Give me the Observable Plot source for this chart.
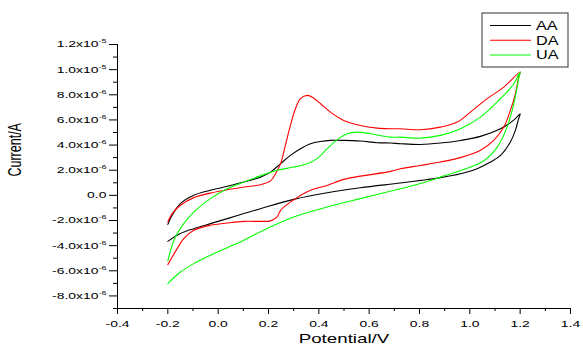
<!DOCTYPE html>
<html>
<head>
<meta charset="utf-8">
<script src="https://cdn.jsdelivr.net/npm/d3@7"></script>
<script src="https://cdn.jsdelivr.net/npm/@observablehq/plot@0.6"></script>
<style>
  body { margin: 0; background: #fff; }
  #chart { width: 583px; height: 348px; position: relative; }
</style>
</head>
<body>
<div id="chart"></div>
<script>
// ---- data (potential in V, current in µA) ----
const seriesNames = ["AA", "DA", "UA"];
const seriesColors = ["#000000", "#ff0000", "#00ff00"];

const aaPotential = [-0.2,-0.183,-0.15,-0.097,-0.031,0.036,0.102,0.168,0.208,0.248,0.287,0.327,0.367,0.407,0.446,0.498,0.565,0.632,0.685,0.724,0.804,0.883,0.963,1.042,1.122,1.173,1.2,
  1.194,1.181,1.161,1.122,1.082,1.029,0.963,0.883,0.804,0.724,0.565,0.433,0.3,0.168,0.102,0.036,-0.031,-0.097,-0.15,-0.2];
const aaCurrent = [-2.31,-1.59,-0.66,0,0.40,0.72,1.06,1.45,1.85,2.52,3.18,3.71,4.11,4.29,4.37,4.37,4.32,4.19,4.16,4.11,4.05,4.16,4.37,4.69,5.30,5.96,6.49,
  6.10,5.17,4.24,3.18,2.65,2.12,1.72,1.41,1.19,0.98,0.61,0.21,-0.32,-1.06,-1.45,-1.85,-2.25,-2.65,-3.04,-3.66];

const daPotential = [-0.2,-0.183,-0.15,-0.097,-0.031,0.036,0.102,0.168,0.208,0.228,0.248,0.267,0.287,0.307,0.327,0.354,0.38,0.407,0.446,0.499,0.565,0.632,0.685,0.724,0.804,0.883,0.95,1.002,1.069,1.135,1.2,
  1.194,1.181,1.161,1.135,1.095,1.042,0.963,0.883,0.804,0.724,0.685,0.565,0.499,0.433,0.367,0.3,0.248,0.234,0.208,0.168,0.102,0.036,-0.031,-0.097,-0.137,-0.163,-0.2];
const daCurrent = [-2.12,-1.45,-0.79,-0.18,0.18,0.45,0.66,0.85,1.15,1.72,2.52,3.97,5.56,6.89,7.69,7.95,7.73,7.29,6.62,5.96,5.56,5.35,5.30,5.30,5.22,5.43,5.83,6.62,7.69,8.61,9.82,
  9.40,8.08,6.76,5.43,4.37,3.58,3.00,2.65,2.38,2.12,1.91,1.53,1.27,0.79,0.40,-0.36,-1.19,-1.72,-2.03,-2.07,-2.07,-2.20,-2.38,-2.78,-3.44,-4.24,-5.51];

const uaPotential = [-0.2,-0.189,-0.17,-0.137,-0.097,-0.031,0.036,0.102,0.168,0.234,0.3,0.354,0.393,0.433,0.473,0.513,0.552,0.605,0.685,0.724,0.804,0.883,0.963,1.042,1.122,1.175,1.2,
  1.194,1.175,1.148,1.109,1.055,0.989,0.883,0.804,0.724,0.565,0.433,0.3,0.168,0.102,0.036,-0.031,-0.097,-0.15,-0.2];
const uaCurrent = [-5.22,-4.37,-3.31,-2.25,-1.33,-0.26,0.53,1.06,1.55,1.99,2.25,2.52,2.92,3.71,4.43,4.90,5.03,4.90,4.63,4.63,4.55,4.77,5.30,6.22,7.69,8.88,9.82,
  9.28,7.29,5.43,3.84,2.75,2.15,1.45,0.95,0.53,-0.26,-0.93,-1.72,-2.89,-3.58,-4.16,-4.77,-5.43,-6.10,-7.02];

const xTicks = [-0.4,-0.2,0.0,0.2,0.4,0.6,0.8,1.0,1.2,1.4];
const xMinorTicks = [-0.3,-0.1,0.1,0.3,0.5,0.7,0.9,1.1,1.3];
const yTicks = [-8e-6,-6e-6,-4e-6,-2e-6,0,2e-6,4e-6,6e-6,8e-6,1e-5,1.2e-5];
const yMinorTicks = [-9e-6,-7e-6,-5e-6,-3e-6,-1e-6,1e-6,3e-6,5e-6,7e-6,9e-6,1.1e-5];

// ---- table ----
const seriesData = [
  [aaPotential, aaCurrent],
  [daPotential, daCurrent],
  [uaPotential, uaCurrent]
];
const rows = [];
seriesData.forEach(([px, cy], s) => {
  px.forEach((p, i) => rows.push({series: seriesNames[s], potential: p, current: cy[i] * 1e-6}));
});

function yLabel(v) {
  if (Math.abs(v) < 1e-12) return "0.0";
  const e = Math.floor(Math.log10(Math.abs(v)) + 1e-9);
  const m = v / Math.pow(10, e);
  return m.toFixed(1) + "x10^" + e;
}

const chart = Plot.plot({
  width: 583,
  height: 348,
  marginLeft: 117,
  marginRight: 13,
  marginTop: 44,
  marginBottom: 40,
  x: {domain: [-0.4, 1.4], label: null},
  y: {domain: [-9e-6, 1.2e-5], label: null},
  color: {domain: seriesNames, range: seriesColors},
  style: {fontFamily: "'Liberation Sans', Arial, sans-serif", fontSize: "9.3px", color: "#000", background: "#fff", overflow: "visible"},
  marks: [
    Plot.axisX(xMinorTicks, {tickSize: 3, tickFormat: () => "", label: null}),
    Plot.axisX(xTicks, {tickSize: 6, tickPadding: 6, tickFormat: v => v.toFixed(1), label: null}),
    Plot.axisY(yMinorTicks, {tickSize: 4, tickFormat: () => "", label: null}),
    Plot.axisY(yTicks, {tickSize: 8, tickPadding: 3, tickFormat: yLabel, label: null}),
    Plot.ruleX([-0.4]),
    Plot.ruleY([-9e-6]),
    Plot.line(rows, {x: "potential", y: "current", z: "series", stroke: "series", strokeWidth: 1.1, curve: "catmull-rom"}),
    Plot.text(["Potential/V"], {text: d => d, frameAnchor: "bottom", dy: 34, fontSize: 12.5}),
    Plot.text(["Current/A"], {text: d => d, frameAnchor: "left", dx: -102, rotate: -90, fontSize: 12.5})
  ]
});

document.getElementById("chart").appendChild(chart);

// superscripts for y tick labels
chart.querySelectorAll("text").forEach(t => {
  const s = t.textContent;
  if (s.includes("^")) {
    const [base, exp] = s.split("^");
    t.textContent = base;
    const ts = document.createElementNS("http://www.w3.org/2000/svg", "tspan");
    ts.setAttribute("dy", "-4");
    ts.setAttribute("font-size", "6px");
    ts.textContent = exp;
    t.appendChild(ts);
  }
});

// horizontally widened lettering as in the reference
chart.querySelectorAll("text").forEach(t => {
  const tr = t.getAttribute("transform");
  if (tr) {
    if (tr.includes("rotate")) t.setAttribute("transform", tr.replace("rotate", "scale(1.4,1) rotate"));
    else t.setAttribute("transform", tr + " scale(1.5,1)");
  } else {
    const x = +t.getAttribute("x") || 0, y = +t.getAttribute("y") || 0;
    t.setAttribute("x", 0); t.setAttribute("y", 0);
    t.setAttribute("transform", `translate(${x},${y}) scale(1.5,1)`);
  }
});

// legend
const svg = d3.select(chart);
const lg = svg.append("g").attr("class", "legend");
lg.append("rect").attr("x", 482).attr("y", 13).attr("width", 86).attr("height", 54)
  .attr("fill", "#fff").attr("stroke", "#333").attr("stroke-width", 1);
const rowY = [25.5, 40.3, 55];
seriesNames.forEach((name, i) => {
  lg.append("line").attr("x1", 490).attr("x2", 531).attr("y1", rowY[i]).attr("y2", rowY[i])
    .attr("stroke", seriesColors[i]).attr("stroke-width", 1.1);
  lg.append("text").attr("transform", `translate(536,${rowY[i]}) scale(1.35,1)`)
    .attr("text-anchor", "start")
    .attr("dy", "0.35em").attr("font-size", "12px").attr("fill", "#000").text(name);
});
</script>
</body>
</html>
